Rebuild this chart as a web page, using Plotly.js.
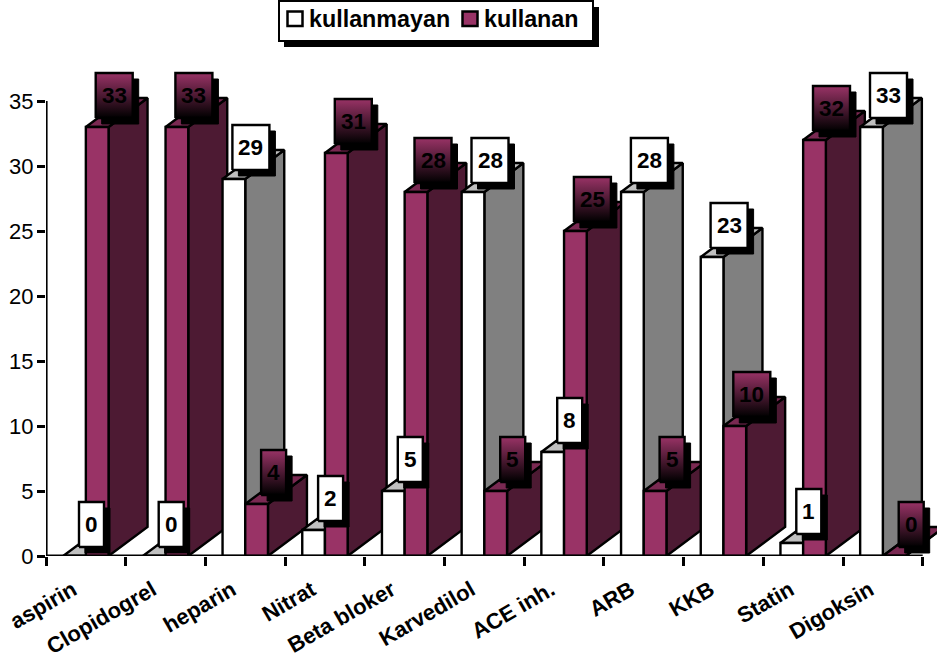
<!DOCTYPE html>
<html>
<head>
<meta charset="utf-8">
<script src="https://cdn.plot.ly/plotly-3.0.1.min.js"></script>
<style>html,body{margin:0;padding:0;background:#fff;overflow:hidden}</style>
</head>
<body>
<div id="chart" style="width:937px;height:663px"></div>
<script>
// Drug usage counts per medication
const categories = ['aspirin','Clopidogrel','heparin','Nitrat','Beta bloker','Karvedilol','ACE inh.','ARB','KKB','Statin','Digoksin'];
const kullanmayan = [0,0,29,2,5,28,8,28,23,1,33];
const kullanan = [33,33,4,31,28,5,25,5,10,32,0];
const yTicks = [0,5,10,15,20,25,30,35];
const seriesNames = ['kullanmayan','kullanan'];

const W = 937, H = 663;
const margin = {l:46, r:0, t:0, b:107};
const pxX = 79.7;  // pixels per category
const pxY = 13;    // pixels per value unit
const FONT = '"Liberation Sans", Arial, sans-serif';

// The plot area runs past the drawn axes so the 3D faces and callouts stay visible
const xMax = (W - margin.l - margin.r) / pxX;
const yMax = (H - margin.t - margin.b) / pxY;

// Depth of the extruded bars, and bar width, expressed in axis units
const depthX = 39 / pxX, depthY = 29 / pxY, barW = 22.7 / pxX;

const styles = [
  {front:'#ffffff', side:'#808080', top:'#c0c0c0'},
  {front:'#993366', side:'#4d1a33', top:'#7a2952'}
];

const traces = [];
let z = 1;
function poly(xs, ys, color, order) {
  traces.push({type:'scatter', mode:'lines', x:[...xs, xs[0]], y:[...ys, ys[0]], fill:'toself',
    fillcolor:color, line:{color:'#000', width:2.4}, showlegend:false, hoverinfo:'skip',
    cliponaxis:false, zorder:order});
}

// Painter's order: left to right, side and top faces first, then the front
categories.forEach((name, i) => {
  [kullanmayan, kullanan].forEach((values, s) => {
    const v = values[i];
    const x0 = i + 0.5 + (s === 0 ? -barW : 0), x1 = x0 + barW;
    poly([x1, x1+depthX, x1+depthX, x1], [0, depthY, v+depthY, v], styles[s].side, z++);
    poly([x0, x1, x1+depthX, x0+depthX], [v, v, v+depthY, v+depthY], styles[s].top, z++);
    traces.push({type:'bar', x:[i+0.5], y:[v], width:[barW], offset:[s === 0 ? -barW : 0],
      name:seriesNames[s], marker:{color:styles[s].front, line:{color:'#000', width:2.4}},
      showlegend:false, hoverinfo:'skip', cliponaxis:false, zorder:z++});
  });
});

// Value callouts with a drop shadow, above every bar
const annotations = [];
const LABEL_Z = z + 10;
[kullanmayan, kullanan].forEach((values, s) => {
  values.forEach((v, i) => {
    const cx = i + 0.5 + (s === 0 ? -barW/2 : barW/2) + 17/pxX;
    const hw = (String(v).length > 1 ? 18.5 : 12.5) / pxX;
    const bottom = v + 9/pxY, top = v + 54/pxY;
    const sx = 6/pxX, sy = 6/pxY;
    traces.push({type:'scatter', mode:'lines',
      x:[cx-hw+sx, cx+hw+sx, cx+hw+sx, cx-hw+sx, cx-hw+sx],
      y:[bottom-sy, bottom-sy, top-sy, top-sy, bottom-sy],
      fill:'toself', fillcolor:'#000', line:{color:'#000', width:1},
      showlegend:false, hoverinfo:'skip', cliponaxis:false, zorder:LABEL_Z});
    const box = {type:'scatter', mode:'lines',
      x:[cx-hw, cx+hw, cx+hw, cx-hw, cx-hw], y:[bottom, bottom, top, top, bottom],
      fill:'toself', line:{color:'#000', width:2.4},
      showlegend:false, hoverinfo:'skip', cliponaxis:false, zorder:LABEL_Z+1};
    if (s === 0) box.fillcolor = '#ffffff';
    else box.fillgradient = {type:'vertical', colorscale:[[0,'#000000'],[1,'#993366']]};
    traces.push(box);
    annotations.push({x:cx, y:(bottom+top)/2, xref:'x', yref:'y', text:'<b>'+v+'</b>', showarrow:false,
      xanchor:'center', yanchor:'middle', font:{family:FONT, size:22.5, color:'#000'}});
  });
});

// Axis spines stop at the last category and at 35
const spine = (x0, y0, x1, y1) => ({type:'line', xref:'x', yref:'y', layer:'above',
  x0:x0, y0:y0, x1:x1, y1:y1, line:{color:'#000', width:3.2}});

// Hand-built legend box, placed in page pixels
const paperX = px => (px - margin.l) / (W - margin.l - margin.r);
const paperY = py => 1 - (py - margin.t) / (H - margin.t - margin.b);
const rect = (x0, y0, x1, y1, fill, lw) => ({type:'rect', xref:'paper', yref:'paper', layer:'above',
  x0:paperX(x0), x1:paperX(x1), y0:paperY(y0), y1:paperY(y1), fillcolor:fill, line:{color:'#000', width:lw}});
const shapes = [
  spine(0, 0, categories.length, 0),
  spine(0, 0, 0, 35),
  rect(284, 7, 599, 47, '#000', 0),
  rect(279, 1, 593, 41, '#fff', 2),
  rect(287.5, 11.5, 302.5, 26, '#fff', 2.5),
  rect(462.5, 11.5, 477.5, 26, '#993366', 2.5)
];
[[307, seriesNames[0]], [482, seriesNames[1]]].forEach(([px, t]) => annotations.push({
  xref:'paper', yref:'paper', x:paperX(px), y:paperY(19), text:'<b>'+t+'</b>', showarrow:false,
  xanchor:'left', yanchor:'middle', font:{family:FONT, size:23.3, color:'#000'}}));

const layout = {
  width:W, height:H, margin:margin, paper_bgcolor:'#fff', plot_bgcolor:'#fff',
  barmode:'overlay', showlegend:false, hovermode:false,
  xaxis:{type:'linear', range:[0, xMax], showgrid:false, zeroline:false, showline:false,
    tickmode:'array', tickvals:categories.map((_, i) => i+0.5), ticktext:categories,
    ticks:'', tickangle:-30, tickfont:{family:FONT, size:22, color:'#000', weight:'bold'},
    ticklabelstandoff:16, ticklabelshift:-13,
    minor:{tickmode:'array', tickvals:categories.map((_, i) => i).concat(categories.length),
      ticks:'outside', ticklen:9, tickwidth:3, tickcolor:'#000', showgrid:false}},
  yaxis:{range:[0, yMax], showgrid:false, zeroline:false, showline:false,
    tickmode:'array', tickvals:yTicks, ticks:'outside', ticklen:8, tickwidth:2.5, tickcolor:'#000',
    ticklabelstandoff:-1,
    tickfont:{family:FONT, size:22, color:'#000'}},
  shapes:shapes, annotations:annotations
};
Plotly.newPlot('chart', traces, layout, {displayModeBar:false, responsive:false});
</script>
</body>
</html>
